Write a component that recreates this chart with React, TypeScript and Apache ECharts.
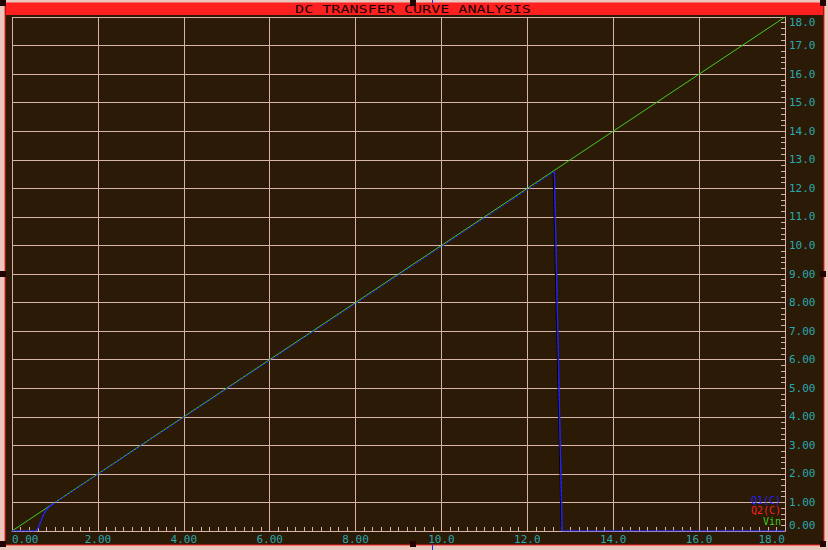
import React, { useEffect, useRef } from 'react';
import * as echarts from 'echarts';

const xTickLabels = ['0.00', '2.00', '4.00', '6.00', '8.00', '10.0', '12.0', '14.0', '16.0', '18.0'];
const yTickLabels = ['0.00', '1.00', '2.00', '3.00', '4.00', '5.00', '6.00', '7.00', '8.00', '9.00', '10.0', '11.0', '12.0', '13.0', '14.0', '15.0', '16.0', '17.0', '18.0'];

const vinData: number[][] = [[0, 0], [18, 18]];
const q1Data: number[][] = [
  [0, 0], [0.56, 0], [0.6, 0.08], [0.65, 0.25], [0.7, 0.45], [0.75, 0.62], [0.8, 0.74],
  [0.88, 0.86], [0.98, 0.97], [12.63, 12.58], [12.81, 0], [18, 0],
];
const dropData: number[][] = [[12.6, 12.56], [12.79, 0]];

const legendNames = ['Q1(C)', 'Q2(C)', 'Vin'];
const titleText = 'DC TRANSFER CURVE ANALYSIS';

const BG_DARK = '#2a1a06';
const GRID_PINK = '#d9b3aa';
const TEAL = '#2aa8b0';
const GREEN = '#44cc22';
const BLUE = '#2222ff';
const RED = '#ff2020';
const MONO = '"DejaVu Sans Mono", monospace';

export default function App() {
  const ref = useRef<HTMLDivElement>(null);
  useEffect(() => {
    document.body.style.margin = '0';
    const chart = echarts.init(ref.current!, undefined, { renderer: 'svg' });
    const legendColors = [BLUE, RED, GREEN];
    const handle = (x: number, y: number) => ({
      type: 'rect', z: 100, shape: { x, y, width: 6, height: 6 }, style: { fill: '#220404' },
    });
    chart.setOption({
      animation: false,
      backgroundColor: '#eac6bd',
      grid: { left: 12, top: 17, width: 773, height: 514, containLabel: false },
      xAxis: {
        type: 'value', min: 0, max: 18, interval: 2,
        axisLine: { show: true, onZero: false, lineStyle: { color: GRID_PINK, width: 1 } },
        axisTick: { show: true, inside: true, length: 4, lineStyle: { color: GRID_PINK } },
        minorTick: { show: true, splitNumber: 10, length: 4, lineStyle: { color: GRID_PINK } },
        splitLine: { show: true, lineStyle: { color: GRID_PINK, width: 1 } },
        axisLabel: {
          color: TEAL, fontFamily: MONO, fontSize: 11, margin: 3,
          alignMinLabel: 'left', alignMaxLabel: 'right',
          formatter: (v: number) => xTickLabels[Math.round(v / 2)] ?? '',
        },
      },
      yAxis: {
        type: 'value', position: 'right', min: 0, max: 18, interval: 1,
        axisLine: { show: true, onZero: false, lineStyle: { color: GRID_PINK, width: 1 } },
        axisTick: { show: true, inside: true, length: 4, lineStyle: { color: GRID_PINK } },
        minorTick: { show: true, splitNumber: 5, length: 4, lineStyle: { color: GRID_PINK } },
        splitLine: { show: true, lineStyle: { color: GRID_PINK, width: 1 } },
        axisLabel: {
          color: TEAL, fontFamily: MONO, fontSize: 11, margin: 4,
          verticalAlignMinLabel: 'bottom', verticalAlignMaxLabel: 'top',
          formatter: (v: number) => yTickLabels[Math.round(v)] ?? '',
        },
      },
      series: [
        {
          name: 'Vin', type: 'line', data: vinData, symbol: 'none', z: 3,
          lineStyle: { color: GREEN, width: 1 },
        },
        {
          name: 'drop', type: 'line', data: dropData, symbol: 'none', z: 3,
          lineStyle: { color: '#000000', width: 1 },
        },
        {
          name: 'Q1(C)', type: 'line', data: q1Data, symbol: 'none', z: 4,
          lineStyle: { color: BLUE, width: 1.2, type: [2, 2] },
        },
        {
          name: 'Q1(C)solid', type: 'line', data: q1Data.slice(9), symbol: 'none', z: 4,
          lineStyle: { color: BLUE, width: 1.2 },
        },
        {
          name: 'Q1(C)start', type: 'line', data: q1Data.slice(0, 9), symbol: 'none', z: 4,
          lineStyle: { color: BLUE, width: 1.2 },
        },
      ],
      graphic: [
        { type: 'rect', z: -10, shape: { x: 5, y: 3, width: 819, height: 542 }, style: { fill: BG_DARK, stroke: RED, lineWidth: 1 } },
        { type: 'rect', z: -9, shape: { x: 6, y: 3, width: 817, height: 12 }, style: { fill: RED } },
        {
          type: 'text', z: 100, x: 413, y: 9, scaleX: 1.37,
          style: { text: titleText, fill: '#1a0000', font: `11px ${MONO}`, align: 'center', verticalAlign: 'middle' },
        },
        ...legendNames.map((n, i) => ({
          type: 'text', z: 100, x: 781, y: 500 + i * 10.5,
          style: { text: n, fill: legendColors[i], font: `10px ${MONO}`, align: 'right', verticalAlign: 'middle' },
        })),
        handle(0, 0), handle(410, 0), handle(820, 0),
        handle(0, 271), handle(820, 271),
        handle(0, 541), handle(410, 541), handle(820, 541),
        { type: 'line', z: 100, shape: { x1: 432.5, y1: 0, x2: 432.5, y2: 3 }, style: { stroke: BLUE, lineWidth: 1 } },
        { type: 'line', z: 100, shape: { x1: 432.5, y1: 545, x2: 432.5, y2: 550 }, style: { stroke: BLUE, lineWidth: 1 } },
      ],
    });
    return () => chart.dispose();
  }, []);
  return <div ref={ref} style={{ position: 'fixed', left: 0, top: 0, width: 828, height: 550 }} />;
}
